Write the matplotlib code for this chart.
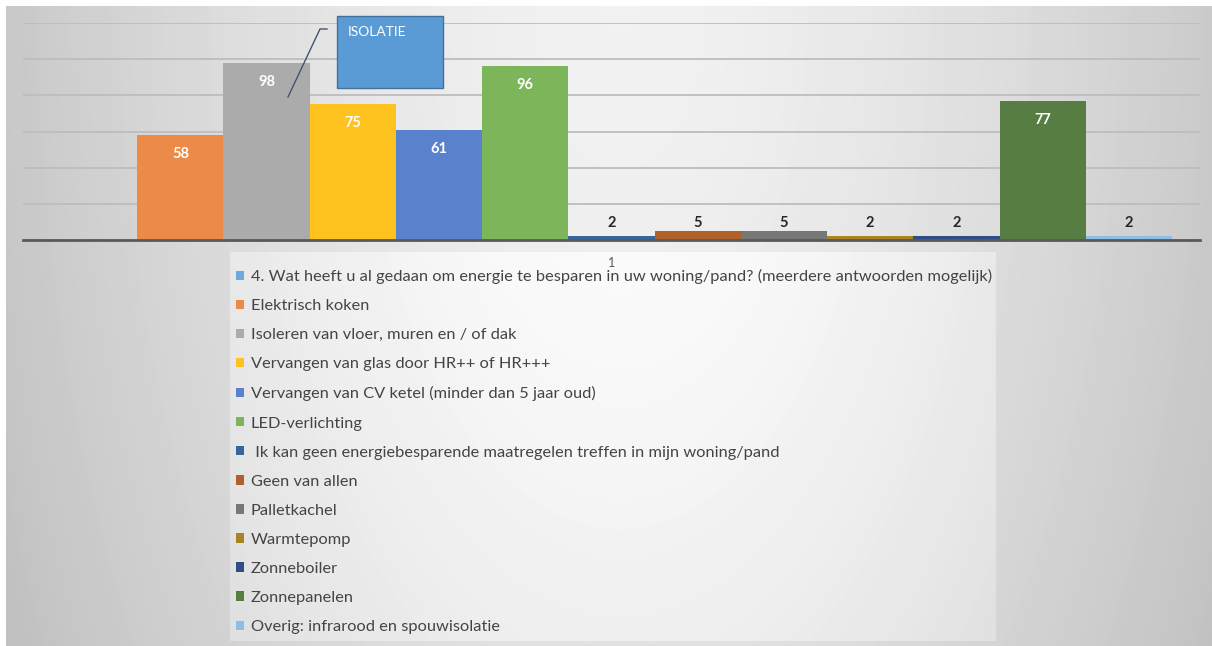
import matplotlib
matplotlib.use("Agg")
import matplotlib.pyplot as plt
import numpy as np
from matplotlib.patches import Rectangle
from matplotlib.lines import Line2D

plt.rcParams['font.family'] = ['Lato', 'DejaVu Sans']

series = [
    "4. Wat heeft u al gedaan om energie te besparen in uw woning/pand? (meerdere antwoorden mogelijk)",
    "Elektrisch koken",
    "Isoleren van vloer, muren en / of dak",
    "Vervangen van glas door HR++ of HR+++",
    "Vervangen van CV ketel (minder dan 5 jaar oud)",
    "LED-verlichting",
    " Ik kan geen energiebesparende maatregelen treffen in mijn woning/pand",
    "Geen van allen",
    "Palletkachel",
    "Warmtepomp",
    "Zonneboiler",
    "Zonnepanelen",
    "Overig: infrarood en spouwisolatie",
]
values = [0, 58, 98, 75, 61, 96, 2, 5, 5, 2, 2, 77, 2]
colors = ["#6FA8DC", "#EC8A48", "#ABABAB", "#FFC31F", "#5A82CC", "#7CB55A",
          "#34679A", "#B0612A", "#777777", "#A88522", "#2F4E85", "#587D42", "#8FBDE6"]
category = "1"

W, H = 1212, 646
fig = plt.figure(figsize=(W / 100, H / 100), dpi=100)
fig.patch.set_facecolor("white")

# achtergrond met verloop
yy, xx = np.mgrid[0:H, 0:W]
r = np.sqrt(((xx - 620) / 600.0) ** 2 + (yy / 1200.0) ** 2)
img = 0.95 - 0.16 * r ** 1.5
inleg = (xx >= 230) & (xx <= 995) & (yy >= 252) & (yy <= 640)
img[inleg] += 0.05
img = np.clip(img, 0, 1)
img[:6, :] = 1.0
img[:, :6] = 1.0
bg = fig.add_axes([0, 0, 1, 1])
bg.imshow(img, cmap="gray", vmin=0, vmax=1, aspect="auto", interpolation="bilinear")
bg.axis("off")
bg.set_zorder(0)

ax = fig.add_axes([23 / W, (H - 240) / H, (1200 - 23) / W, 217 / H])
ax.set_zorder(1)
ax.patch.set_alpha(0)
ax.set_xlim(-0.5, 0.5)
ax.set_ylim(0, 120)

n = len(values)
w = 0.9524 / n
ppu = 217 / 120.0
handles = []
for i in range(n):
    x = (i - (n - 1) / 2) * w
    b = ax.bar(x, values[i], width=w, color=colors[i], label=series[i], zorder=3)
    handles.append(b)
    v = values[i]
    if v > 0:
        off = max(-19, 17 - v * ppu)
        col = "white" if off < 0 else "#262626"
        ax.annotate(str(v), (x, v), xytext=(0, off), textcoords="offset pixels",
                    ha="center", va="center", fontsize=10.5, fontweight="bold",
                    color=col, zorder=4)

ax.set_yticks(np.arange(0, 121, 20))
ax.yaxis.grid(True, color="#bdbdbd", linewidth=1.3, zorder=0)
ax.set_axisbelow(True)
ax.tick_params(axis="y", left=False, labelleft=False)
ax.set_xticks([0])
ax.set_xticklabels([category])
ax.tick_params(axis="x", length=0, pad=12, labelsize=9, labelcolor="#595959")
for s in ["top", "left", "right"]:
    ax.spines[s].set_visible(False)
ax.spines["bottom"].set_color("#595959")
ax.spines["bottom"].set_linewidth(2)
ax.spines["bottom"].set_zorder(5)

leg = fig.legend(handles=handles, labels=series, loc="upper left",
                 bbox_to_anchor=(236 / W, (H - 269) / H), frameon=False,
                 fontsize=11.8, labelcolor="#444444", handlelength=0.5,
                 handleheight=0.5, handletextpad=0.4, labelspacing=0.92,
                 borderpad=0, borderaxespad=0)

# callout ISOLATIE
fig.patches.append(Rectangle((337 / W, (H - 88) / H), 106 / W, 72 / H,
                             transform=fig.transFigure, facecolor="#5B9BD5",
                             edgecolor="#41719C", linewidth=1, zorder=6))
fig.text(348 / W, (H - 32) / H, "ISOLATIE", color="white", fontsize=10,
         va="center", ha="left", zorder=7)
fig.lines.append(Line2D(np.array([288, 320, 327]) / W,
                        (H - np.array([97, 29, 29])) / H,
                        transform=fig.transFigure, color="#44546A",
                        linewidth=1, zorder=6))

fig.savefig("out.png", dpi=100)
